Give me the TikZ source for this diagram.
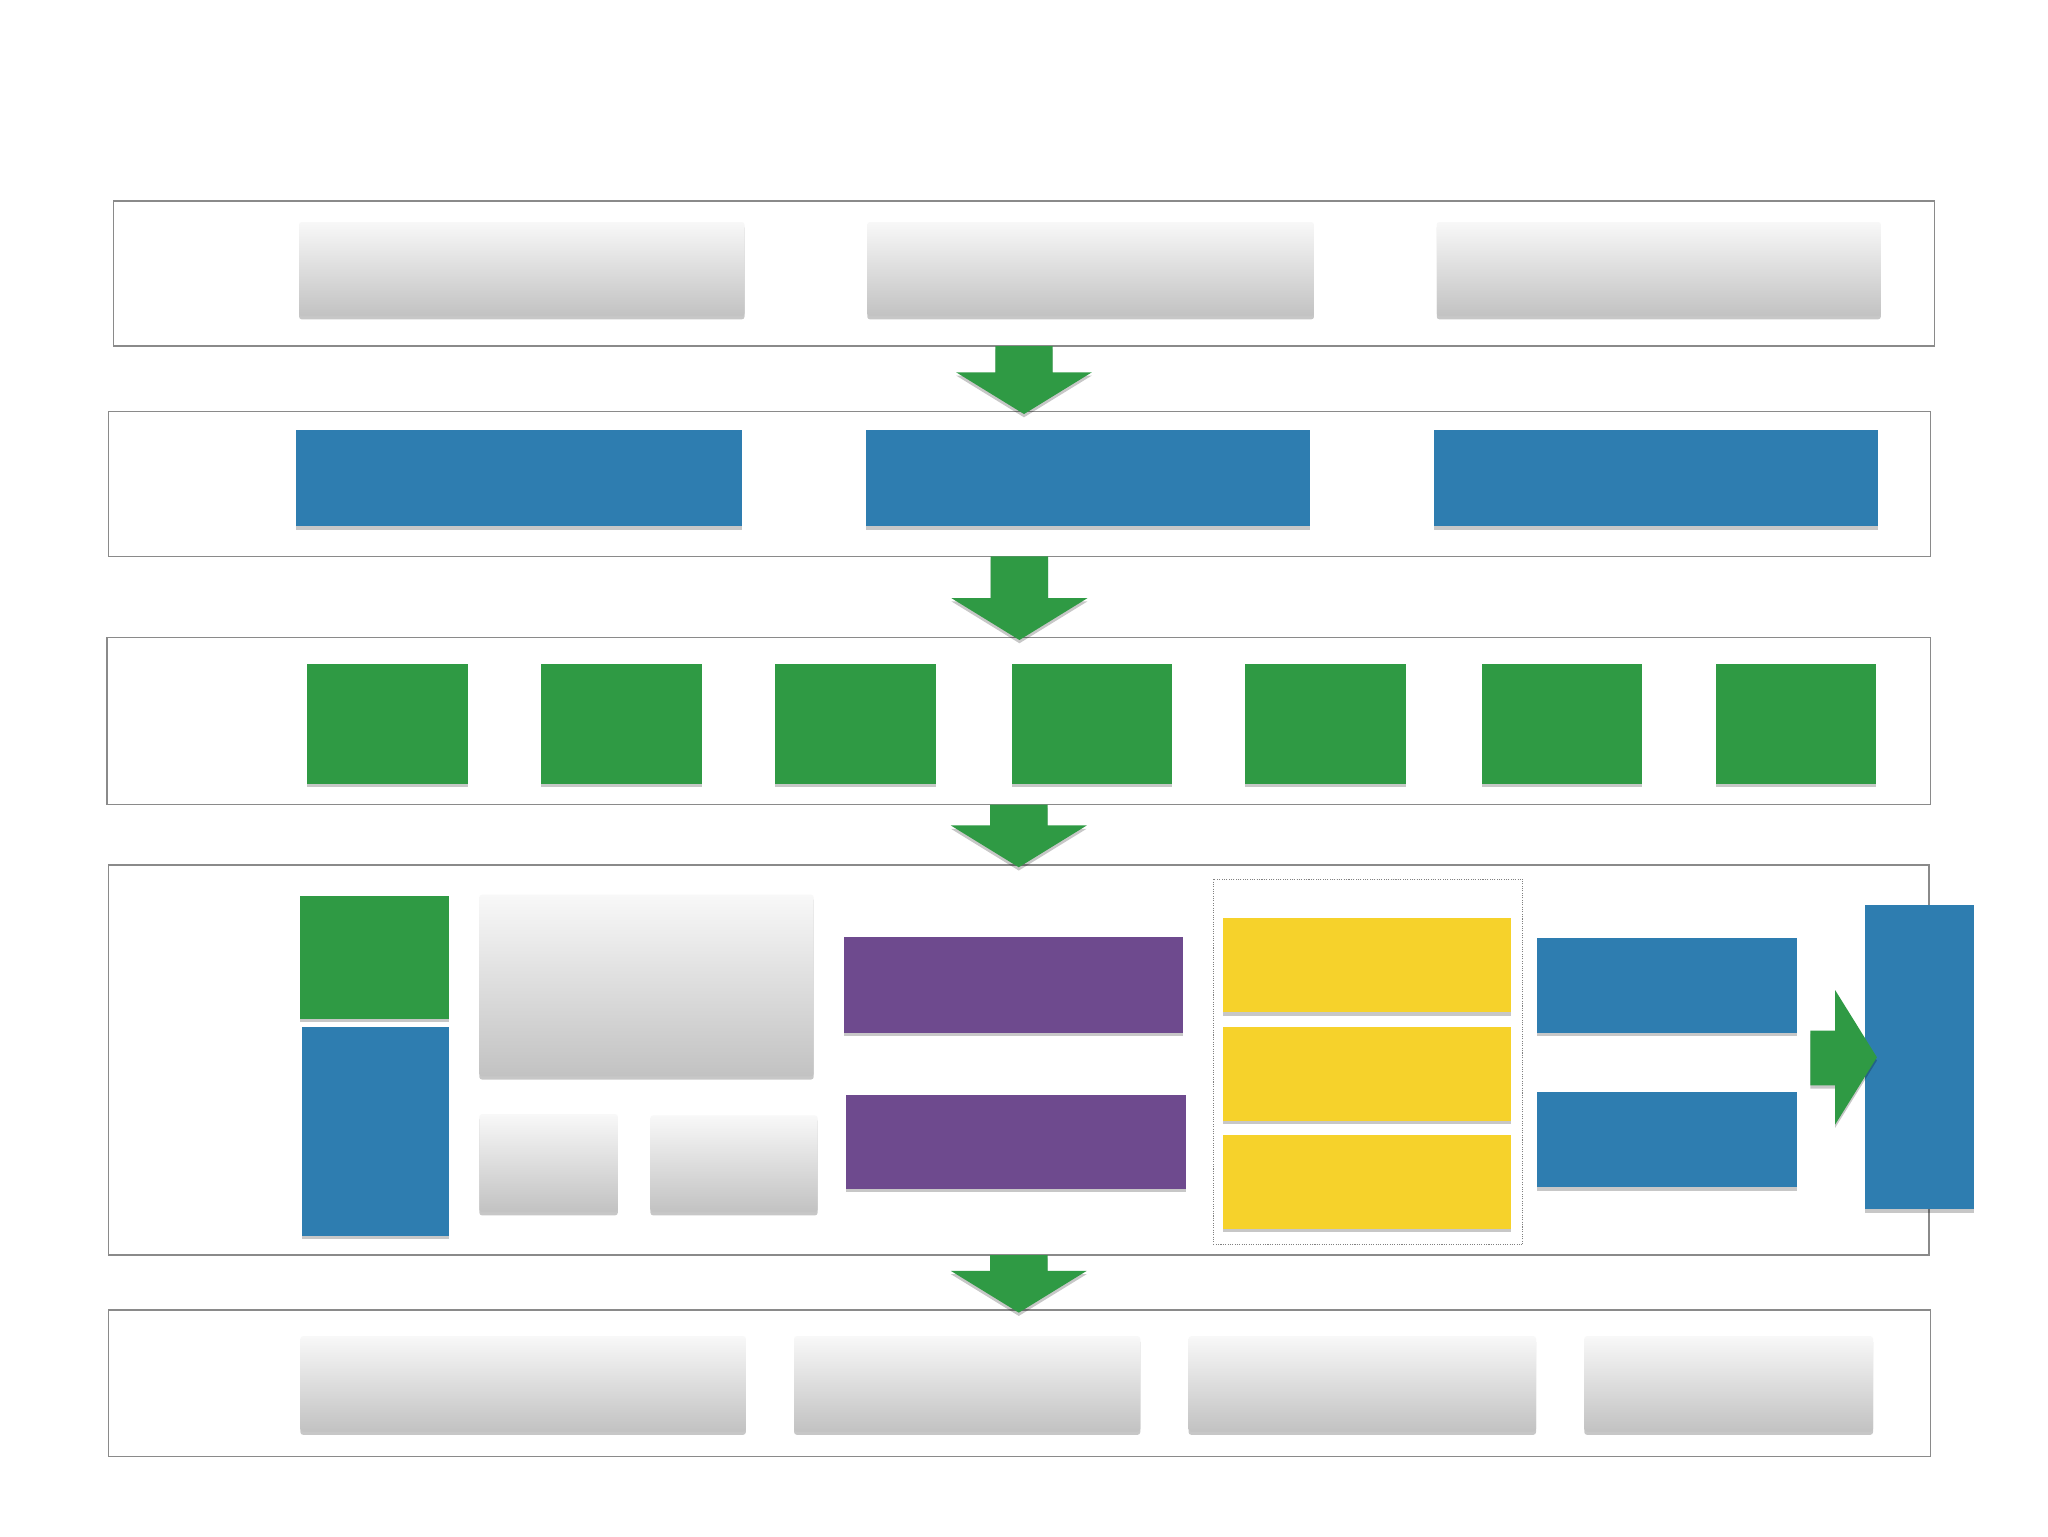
\documentclass[tikz,border=0pt]{standalone}
\usetikzlibrary{calc,shadows}
\definecolor{feltblue}{RGB}{46,125,176}
\definecolor{feltgreen}{RGB}{47,154,68}
\definecolor{feltpurple}{RGB}{110,74,142}
\definecolor{feltyellow}{RGB}{246,210,43}
\definecolor{papertop}{RGB}{248,248,248}
\definecolor{paperbot}{RGB}{194,194,194}
\definecolor{lanegray}{RGB}{138,138,138}
\tikzset{
  sz/.style 2 args={minimum width=#1pt, minimum height=#2pt},
  lane/.style={draw=lanegray, line width=1.3pt},
  card/.style={drop shadow={shadow xshift=0pt, shadow yshift=-2.5pt, opacity=.22, fill=black}},
  paper/.style={card, rounded corners=2pt, top color=papertop, bottom color=paperbot},
  bluecard/.style={card, fill=feltblue},
  greencard/.style={card, fill=feltgreen},
  purplecard/.style={card, fill=feltpurple},
  yellowcard/.style={card, fill=feltyellow},
  arrowfill/.style={card, fill=feltgreen}
}
% fat green arrow from one lane down to the next
\newcommand{\flowarrow}[2]{%
  \path[arrowfill] let \p1=(#1.south), \p2=(#2.north) in
    (\x1-22pt,\y1) -- (\x1-22pt,\y2+30pt) -- (\x1-52pt,\y2+30pt) -- (\x1,\y2-2pt)
    -- (\x1+52pt,\y2+30pt) -- (\x1+22pt,\y2+30pt) -- (\x1+22pt,\y1) -- cycle;}
\begin{document}
\begin{tikzpicture}[x=1pt, y=-1pt, every node/.style={inner sep=0pt, outer sep=0pt}]
  \fill[white] (0,0) rectangle (1568,1176);
  \useasboundingbox (0,0) rectangle (1568,1176);

  % lanes
  \node[lane, sz={1394}{111}] (r1) at (784,209.5) {};
  \node[lane, sz={1395}{111}] (r2) at (780.5,370.5) {};
  \node[lane, sz={1396}{128}] (r3) at (780,552) {};
  \node[lane, sz={1394}{299}] (r4) at (780,811.5) {};
  \node[lane, sz={1395}{112}] (r5) at (780.5,1059) {};

  % lane 1
  \node[paper, sz={341}{72}] (p1) at (399.5,206) {};
  \node[paper, sz={342}{72}] (p2) at (835,206) {};
  \node[paper, sz={340}{72}] (p3) at (1270,206) {};

  % lane 2
  \node[bluecard, sz={341}{74}] (b1) at (397.5,366) {};
  \node[bluecard, sz={340}{74}] (b2) at (833,366) {};
  \node[bluecard, sz={340}{74}] (b3) at (1268,366) {};

  % lane 3
  \foreach \i/\x in {1/296.5,2/476,3/655,4/836,5/1015,6/1196,7/1375} {
    \node[greencard, sz={123}{92}] (g\i) at (\x,554) {};
  }

  % lane 4
  \node[greencard, sz={114}{94}] (g8) at (287,733) {};
  \node[bluecard, sz={113}{160}] (b4) at (287.5,866) {};
  \node[paper, sz={256}{139}] (p4) at (495,754.5) {};
  \node[paper, sz={106}{75}] (p5) at (420,890.5) {};
  \node[paper, sz={128}{74}] (p6) at (562,891) {};
  \node[purplecard, sz={260}{74}] (v1) at (776,754) {};
  \node[purplecard, sz={260}{72}] (v2) at (778,874) {};
  \node[draw=gray, densely dotted, line width=.8pt, sz={237}{280}] (grp) at (1047.5,813) {};
  \foreach \i/\y in {1/739,2/822,3/905} {
    \node[yellowcard, sz={221}{72}] (y\i) at (1046.5,\y) {};
  }
  \node[bluecard, sz={199}{73}] (b5) at (1276.5,754.5) {};
  \node[bluecard, sz={199}{73}] (b6) at (1276.5,872.5) {};
  \node[bluecard, sz={83}{233}] (tall) at (1469.5,809.5) {};
  \path[arrowfill] let \p1=(tall.west) in
    (\x1-42pt,\y1+20.5pt) -- (\x1-23pt,\y1+20.5pt) -- (\x1-23pt,\y1+51.5pt) -- (\x1+9pt,\y1)
    -- (\x1-23pt,\y1-51.5pt) -- (\x1-23pt,\y1-21.5pt) -- (\x1-42pt,\y1-21.5pt) -- cycle;

  % lane 5
  \node[paper, sz={341}{73}] (p7) at (400.5,1059.5) {};
  \node[paper, sz={265}{73}] (p8) at (740.5,1059.5) {};
  \node[paper, sz={266}{73}] (p9) at (1043,1059.5) {};
  \node[paper, sz={221}{73}] (p10) at (1323.5,1059.5) {};

  \flowarrow{r1}{r2}
  \flowarrow{r2}{r3}
  \flowarrow{r3}{r4}
  \flowarrow{r4}{r5}
\end{tikzpicture}
\end{document}
